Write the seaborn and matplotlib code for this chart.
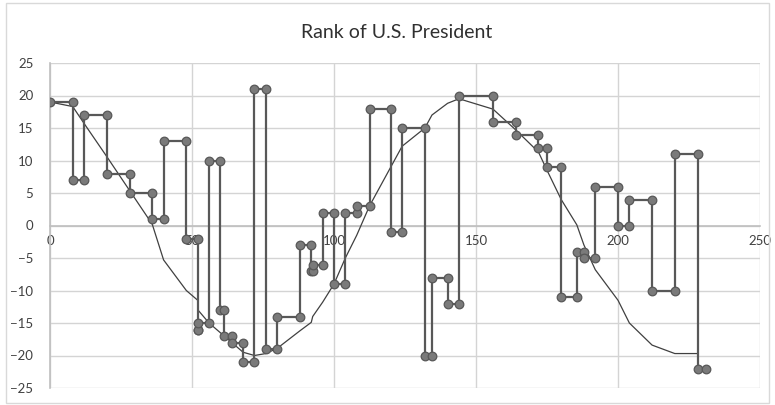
import matplotlib
matplotlib.use("Agg")
import matplotlib.pyplot as plt
import seaborn as sns
import pandas as pd
from matplotlib.patches import Rectangle

# Term start / end (years since 1789) and rank score of each president
term_start = [0, 8, 12, 20, 28, 36, 40, 48, 52, 52.1, 56, 60, 61.3, 64, 68, 72, 76, 80, 88,
              92, 92.5, 96, 100, 104, 108, 112.5, 120, 124, 132, 134.5, 140, 144, 156, 164,
              172, 175, 180, 185.5, 188, 192, 200, 204, 212, 220, 228]
term_end = [8, 12, 20, 28, 36, 40, 48, 52, 52.1, 56, 60, 61.3, 64, 68, 72, 76, 80, 88, 92,
            92.5, 96, 100, 104, 108, 112.5, 120, 124, 132, 134.5, 140, 144, 156, 164, 172,
            175, 180, 185.5, 188, 192, 200, 204, 212, 220, 228, 231]
rank_score = [19, 7, 17, 8, 5, 1, 13, -2, -16, -15, 10, -13, -17, -18, -21, 21, -19, -14, -3,
              -7, -6, 2, -9, 2, 3, 18, -1, 15, -20, -8, -12, 20, 16, 14, 12, 9, -11, -4, -5,
              6, 0, 4, -10, 11, -22]

# Trend curve
trend_x = [0, 8, 12, 20, 28, 36, 40, 48, 52, 52.1, 56, 60, 61.3, 64, 68, 72, 76, 80, 88, 92,
           92.5, 96, 100, 104, 108, 112.5, 120, 124, 132, 134.5, 140, 144, 156, 164, 172,
           175, 180, 185.5, 188, 192, 200, 204, 212, 220, 228]
trend_y = [19, 18.3, 15.7, 10.6, 5.4, 0.2, -5.3, -10, -11.5, -13, -15, -16.5, -17, -18,
           -19.5, -20, -19.7, -18.9, -16.2, -14.9, -14, -11.8, -9, -5, -1.5, 3, 9, 12.2,
           15, 17, 18.8, 19.5, 17.9, 14.7, 11.3, 8.5, 4, 0.1, -3, -6.8, -11.5, -15, -18.4,
           -19.7, -19.7]

x_ticks = [0, 50, 100, 150, 200, 250]
y_ticks = [-25, -20, -15, -10, -5, 0, 5, 10, 15, 20, 25]
title = "Rank of U.S. President"

# Build step path (start and end point of each term)
px, py = [], []
for s, e, r in zip(term_start, term_end, rank_score):
    px += [s, e]
    py += [r, r]
path = pd.DataFrame({"x": px, "y": py})
trend = pd.DataFrame({"x": trend_x, "y": trend_y})

sns.set_style("white")
plt.rcParams["font.family"] = ["Lato", "DejaVu Sans"]

fig = plt.figure(figsize=(7.75, 4.05), dpi=100)
ax = fig.add_axes([50 / 775, 1 - 388 / 405, 710 / 775, 325 / 405])

sns.lineplot(data=trend, x="x", y="y", sort=False, estimator=None, ax=ax,
             color="#404040", linewidth=0.9, zorder=3)
sns.lineplot(data=path, x="x", y="y", sort=False, estimator=None, ax=ax,
             color="#585858", linewidth=1.6, marker="o", markersize=6.2,
             markerfacecolor="#7a7a7a", markeredgecolor="#585858",
             markeredgewidth=0.9, zorder=4)

ax.set_xlim(0, 250)
ax.set_ylim(-25, 25)
ax.set_xticks(x_ticks)
ax.set_yticks(y_ticks)
ax.set_xlabel("")
ax.set_ylabel("")
ax.grid(True, color="#d4d4d4", linewidth=1.0, zorder=0)
ax.set_axisbelow(True)

for side in ["top", "right"]:
    ax.spines[side].set_visible(False)
ax.spines["left"].set_color("#bfbfbf")
ax.spines["left"].set_linewidth(1.2)
ax.spines["bottom"].set_position(("data", 0))
ax.spines["bottom"].set_color("#bfbfbf")
ax.spines["bottom"].set_linewidth(1.2)
ax.tick_params(axis="x", length=0, pad=7, labelsize=9.5, labelcolor="#404040")
ax.tick_params(axis="y", length=0, pad=12, labelsize=9.5, labelcolor="#404040")

fig.text(397 / 775, 1 - 32 / 405, title, ha="center", va="center", fontsize=14,
         color="#303030")

fig.patches.append(Rectangle((6 / 775, 2 / 405), 763 / 775, 400 / 405,
                             transform=fig.transFigure, fill=False,
                             edgecolor="#d9d9d9", linewidth=1.0))

fig.savefig("out.png", dpi=100)
